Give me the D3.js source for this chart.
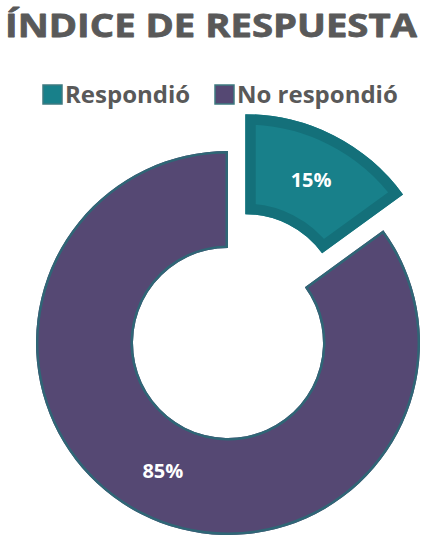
<!DOCTYPE html>
<html>
<head>
<meta charset="utf-8">
<script src="https://cdn.jsdelivr.net/npm/d3@7"></script>
<style>
  body { margin: 0; background: #fff; }
  text { font-family: "Open Sans", "Lato", sans-serif; }
</style>
</head>
<body>
<div id="chart"></div>
<script>
// data
const categories = ["Respondió", "No respondió"];
const values = [15, 85];
const labels = ["15%", "85%"];

const width = 422;
const height = 540;

const svg = d3.select("#chart")
    .append("svg")
    .attr("width", width)
    .attr("height", height);

// title
svg.append("text")
    .attr("x", 5)
    .attr("y", 37)
    .attr("textLength", 412)
    .attr("lengthAdjust", "spacingAndGlyphs")
    .attr("font-size", 33)
    .attr("font-weight", 700)
    .attr("font-family", "'DejaVu Sans', sans-serif")
    .attr("fill", "#595959")
    .attr("stroke", "#595959")
    .attr("stroke-width", 0.8)
    .attr("stroke-linejoin", "round")
    .text("ÍNDICE DE RESPUESTA");

const fillScale = d3.scaleOrdinal()
    .domain(categories)
    .range(["#18808a", "#554873"]);

const strokeScale = d3.scaleOrdinal()
    .domain(categories)
    .range(["#14707a", "#2f6676"]);

// legend
const legendX = d3.scaleOrdinal()
    .domain(categories)
    .range([43, 215]);

const legend = svg.selectAll(".legend")
    .data(categories)
    .enter()
    .append("g")
    .attr("class", "legend")
    .attr("transform", d => `translate(${legendX(d)},85)`);

legend.append("rect")
    .attr("width", 19)
    .attr("height", 19)
    .attr("fill", d => fillScale(d))
    .attr("stroke", "#3e7a80")
    .attr("stroke-width", 1.5);

legend.append("text")
    .attr("x", 22)
    .attr("y", 18)
    .attr("font-size", 24)
    .attr("font-weight", 700)
    .attr("fill", "#595959")
    .text(d => d);

// donut
const cx = 228, cy = 343;
const outerR = 192, innerR = 95;
const explode = 38;

const pie = d3.pie().sort(null).value(d => d.value);
const arcs = pie(categories.map((c, i) => ({cat: c, value: values[i], label: labels[i]})));

// the pulled-out slice is drawn a touch larger
const arc = d3.arc()
    .innerRadius(innerR)
    .outerRadius((d) => d.index === 0 ? outerR + 3 : outerR);

const slices = svg.selectAll(".slice")
    .data(arcs)
    .enter()
    .append("g")
    .attr("class", "slice")
    .attr("transform", (d, i) => {
        let dx = 0, dy = 0;
        if (i === 0) {
            const mid = (d.startAngle + d.endAngle) / 2;
            dx = Math.sin(mid) * explode;
            dy = -Math.cos(mid) * explode;
        }
        return `translate(${cx + dx},${cy + dy})`;
    });

svg.append("defs").selectAll("clipPath")
    .data(arcs)
    .enter()
    .append("clipPath")
    .attr("id", (d, i) => "clip" + i)
    .append("path")
    .attr("d", arc);

slices.append("path")
    .attr("d", arc)
    .attr("fill", d => fillScale(d.data.cat));

// inner border, clipped to the slice
slices.append("path")
    .attr("d", arc)
    .attr("fill", "none")
    .attr("clip-path", (d, i) => `url(#clip${i})`)
    .attr("stroke", d => strokeScale(d.data.cat))
    .attr("stroke-width", (d, i) => i === 0 ? 21 : 5);

slices.append("text")
    .attr("transform", d => `translate(${arc.centroid(d)})`)
    .attr("text-anchor", "middle")
    .attr("dy", "0.35em")
    .attr("font-size", 20)
    .attr("font-weight", 700)
    .attr("fill", "#ffffff")
    .text(d => d.data.label);
</script>
</body>
</html>
